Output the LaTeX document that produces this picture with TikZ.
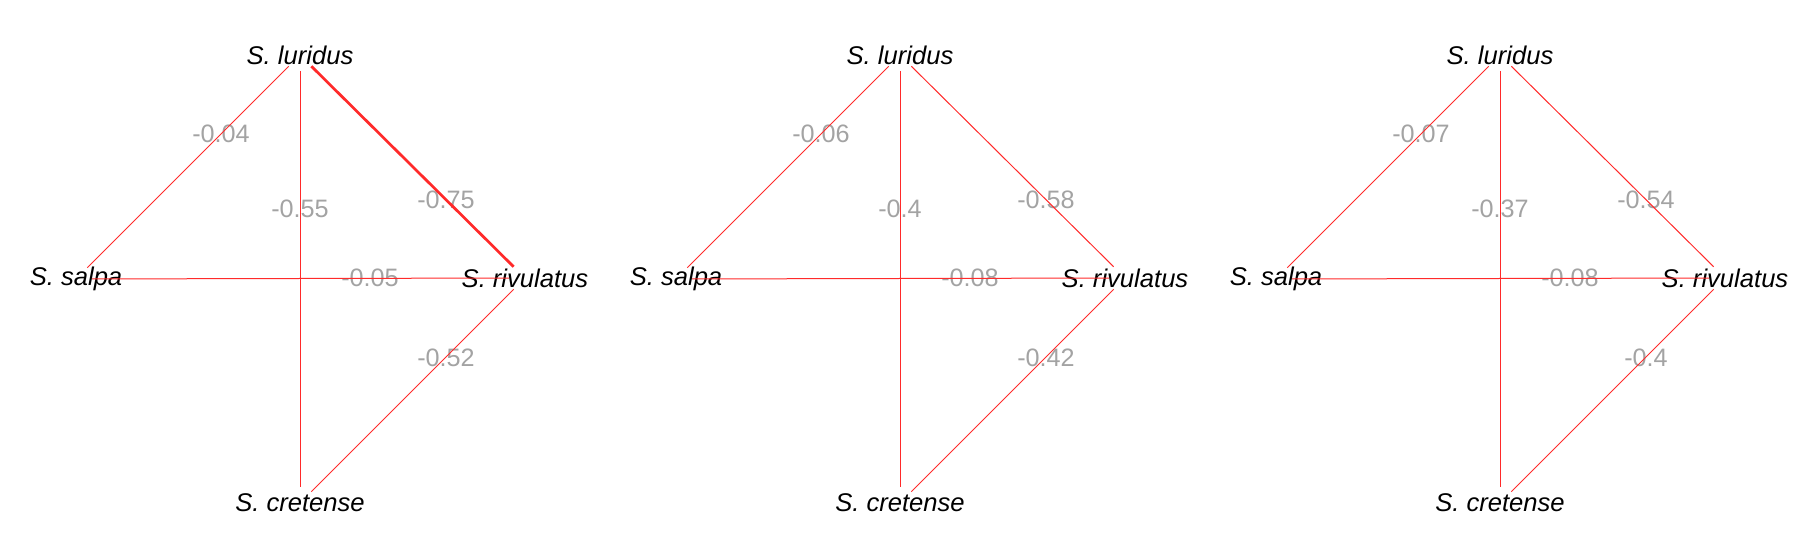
\documentclass[tikz,border=0pt]{standalone}
\usepackage{fontspec}
\setmainfont{Liberation Sans}
\usepackage{tikz}
\usetikzlibrary{positioning}
\definecolor{linkred}{HTML}{FF2A2A}
\definecolor{wtgray}{HTML}{A3A3A3}
\tikzset{
  sp/.style={font=\fontsize{12.8}{15}\selectfont\itshape,inner sep=0pt},
  wt/.style={font=\fontsize{12.6}{15}\selectfont,text=wtgray,inner sep=0pt},
  link/.style={draw=linkred,line width=0.5pt,shorten >=8pt,shorten <=8pt},
  strong/.style={link,line width=1.35pt}
}

\begin{document}
\begin{tikzpicture}[x=0.5pt,y=-0.5pt]
  \useasboundingbox (0,0) rectangle (1800,555);

  % Panel 1
  \node[sp] (lu1) at (300,55) {S. luridus};
  \node[sp] (sa1) at (76,279) {S. salpa};
  \node[sp] (ri1) at (525,278) {S. rivulatus};
  \node[sp] (cr1) at (300,503) {S. cretense};
  \node[wt] (w1a) at (221,134) {-0.04};
  \node[wt] (w1b) at (300,209) {-0.55};
  \node[wt] (w1c) at (446,200) {-0.75};
  \node[wt] (w1d) at (370,278) {-0.05};
  \node[wt] (w1e) at (446,358) {-0.52};
  \draw[link] (sa1.center) -- (lu1.center);
  \draw[link] (lu1.center) -- (cr1.center);
  \draw[strong] (lu1.center) -- (ri1.center);
  \draw[link] (sa1.center) -- (ri1.center);
  \draw[link] (ri1.center) -- (cr1.center);

  % Panel 2
  \node[sp] (lu2) at (900,55) {S. luridus};
  \node[sp] (sa2) at (676,279) {S. salpa};
  \node[sp] (ri2) at (1125,278) {S. rivulatus};
  \node[sp] (cr2) at (900,503) {S. cretense};
  \node[wt] (w2a) at (821,134) {-0.06};
  \node[wt] (w2b) at (900,209) {-0.4};
  \node[wt] (w2c) at (1046,200) {-0.58};
  \node[wt] (w2d) at (970,278) {-0.08};
  \node[wt] (w2e) at (1046,358) {-0.42};
  \draw[link] (sa2.center) -- (lu2.center);
  \draw[link] (lu2.center) -- (cr2.center);
  \draw[link] (lu2.center) -- (ri2.center);
  \draw[link] (sa2.center) -- (ri2.center);
  \draw[link] (ri2.center) -- (cr2.center);

  % Panel 3
  \node[sp] (lu3) at (1500,55) {S. luridus};
  \node[sp] (sa3) at (1276,279) {S. salpa};
  \node[sp] (ri3) at (1725,278) {S. rivulatus};
  \node[sp] (cr3) at (1500,503) {S. cretense};
  \node[wt] (w3a) at (1421,134) {-0.07};
  \node[wt] (w3b) at (1500,209) {-0.37};
  \node[wt] (w3c) at (1646,200) {-0.54};
  \node[wt] (w3d) at (1570,278) {-0.08};
  \node[wt] (w3e) at (1646,358) {-0.4};
  \draw[link] (sa3.center) -- (lu3.center);
  \draw[link] (lu3.center) -- (cr3.center);
  \draw[link] (lu3.center) -- (ri3.center);
  \draw[link] (sa3.center) -- (ri3.center);
  \draw[link] (ri3.center) -- (cr3.center);
\end{tikzpicture}
\end{document}
